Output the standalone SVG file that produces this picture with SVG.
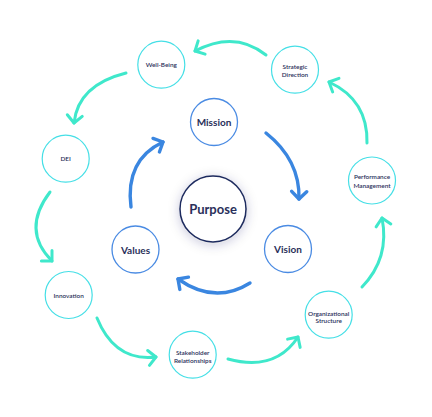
<svg xmlns="http://www.w3.org/2000/svg" width="432" height="417" viewBox="0 0 432 417">
<style>
.outer{fill:#fff;stroke:#45dfe6;stroke-width:1.2}
.inner{fill:#fff;stroke:#4a8be3;stroke-width:1.3}
.core{fill:#fff;stroke:#1e2b5e;stroke-width:1.5}
.t{font-family:Lato,"Open Sans",sans-serif;fill:#2a2f5a;text-anchor:middle;dominant-baseline:central}
.s{font-size:6.4px;font-weight:600}
.m{font-size:10px;font-weight:bold}
.l{font-size:13px;font-weight:bold}
.ta{fill:none;stroke:#3fe8cb;stroke-width:3;stroke-linecap:round;marker-end:url(#ht)}
.ba{fill:none;stroke:#3a86e0;stroke-width:3.4;stroke-linecap:round;marker-end:url(#hb)}
</style>
<defs>
<marker id="ht" viewBox="-10 -10 14 20" refX="0" refY="0" markerWidth="14" markerHeight="20" markerUnits="userSpaceOnUse" orient="auto">
<path d="M-7.5,-7.5 L0,0 L-7.5,7.5" fill="none" stroke="#3fe8cb" stroke-width="3" stroke-linecap="round" stroke-linejoin="round"/>
</marker>
<marker id="hb" viewBox="-10 -10 14 20" refX="0" refY="0" markerWidth="14" markerHeight="20" markerUnits="userSpaceOnUse" orient="auto">
<path d="M-7.5,-7.5 L0,0 L-7.5,7.5" fill="none" stroke="#3a86e0" stroke-width="3.4" stroke-linecap="round" stroke-linejoin="round"/>
</marker>
<filter id="glow" x="-50%" y="-50%" width="200%" height="200%">
<feDropShadow dx="0" dy="2" stdDeviation="6" flood-color="#1e2b5e" flood-opacity="0.22"/>
</filter>
</defs>
<g id="connectors">
<path class="ta" d="M266,55 Q235,30 195,51"/>
<path class="ta" d="M126,73 Q78,85 74,123"/>
<path class="ta" d="M50,192 Q21,230 52,261"/>
<path class="ta" d="M97,318 Q115,362 156,357"/>
<path class="ta" d="M228,359 Q275,372 298,337"/>
<path class="ta" d="M362,287 Q390,258 382,218"/>
<path class="ta" d="M367,143 Q368,100 329,82"/>
<path class="ba" d="M266,133 Q300,160 299,199"/>
<path class="ba" d="M250,283 Q215,305 178,279"/>
<path class="ba" d="M131,207 Q125,160 163,142"/>
</g>
<g id="purpose"><circle class="core" cx="213" cy="209" r="33" filter="url(#glow)"/><text class="t l" x="213" y="209">Purpose</text></g>
<g id="mission"><circle class="inner" cx="214" cy="122" r="23.5"/><text class="t m" x="214" y="122">Mission</text></g>
<g id="vision"><circle class="inner" cx="288" cy="249" r="23.5"/><text class="t m" x="288" y="249">Vision</text></g>
<g id="values"><circle class="inner" cx="135.5" cy="249.5" r="23.5"/><text class="t m" x="135.5" y="249.5">Values</text></g>
<g id="well-being"><circle class="outer" cx="161.3" cy="64.7" r="23.5"/><text class="t s" x="161.3" y="64.7">Well-Being</text></g>
<g id="dei"><circle class="outer" cx="65.7" cy="158.7" r="23.5"/><text class="t s" x="65.7" y="158.7">DEI</text></g>
<g id="strategic-direction"><circle class="outer" cx="295" cy="69.7" r="23.5"/><text class="t s" x="295" y="66">Strategic</text><text class="t s" x="295" y="74.8">Direction</text></g>
<g id="performance-management"><circle class="outer" cx="372" cy="180.5" r="23.5"/><text class="t s" x="372" y="176.7">Performance</text><text class="t s" x="372" y="185.4">Management</text></g>
<g id="innovation"><circle class="outer" cx="68.7" cy="295" r="23.5"/><text class="t s" x="68.7" y="295">Innovation</text></g>
<g id="stakeholder-relationships"><circle class="outer" cx="192.7" cy="354.7" r="23.5"/><text class="t s" x="192.7" y="352">Stakeholder</text><text class="t s" x="192.7" y="360.4">Relationships</text></g>
<g id="organizational-structure"><circle class="outer" cx="328.7" cy="314.7" r="23.5"/><text class="t s" x="328.7" y="313">Organizational</text><text class="t s" x="328.7" y="320.6">Structure</text></g>
</svg>
